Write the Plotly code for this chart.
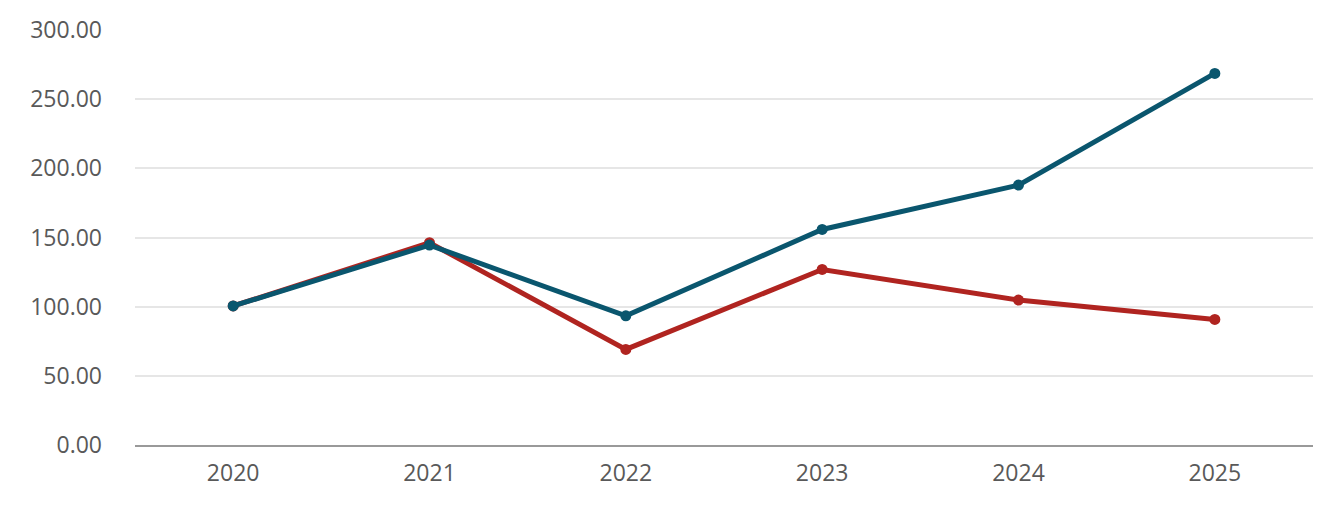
import plotly.graph_objects as go

years = ["2020", "2021", "2022", "2023", "2024", "2025"]
series_red = [100.5, 146.2, 69.1, 126.9, 104.8, 90.8]
series_blue = [100.5, 144.5, 93.4, 155.8, 187.9, 268.6]
y_ticks = [0, 50, 100, 150, 200, 250, 300]

fig = go.Figure()
fig.add_trace(go.Scatter(x=years, y=series_red, mode="lines+markers",
                         line=dict(color="#b02420", width=5),
                         marker=dict(size=11, color="#b02420"), name="Red"))
fig.add_trace(go.Scatter(x=years, y=series_blue, mode="lines+markers",
                         line=dict(color="#0a566e", width=5),
                         marker=dict(size=11, color="#0a566e"), name="Blue"))

fig.update_layout(
    width=1344, height=518,
    margin=dict(l=135, r=31, t=30, b=73),
    paper_bgcolor="white", plot_bgcolor="white",
    showlegend=False,
    font=dict(family="Open Sans", size=23, color="#595959"),
    xaxis=dict(type="category", range=[-0.5, 5.5], showgrid=False, showline=True,
               linecolor="#999999", linewidth=2, ticks="",
               ticklabelstandoff=6),
    yaxis=dict(range=[0, 300], tickvals=y_ticks,
               tickformat=".2f", showgrid=True, gridcolor="#e6e6e6",
               gridwidth=2, zeroline=False, showline=False,
               ticklabelstandoff=32),
)
fig.write_html("out.html", config={"displayModeBar": False},
               post_script="document.body.style.margin='0';document.body.style.overflow='hidden';")
